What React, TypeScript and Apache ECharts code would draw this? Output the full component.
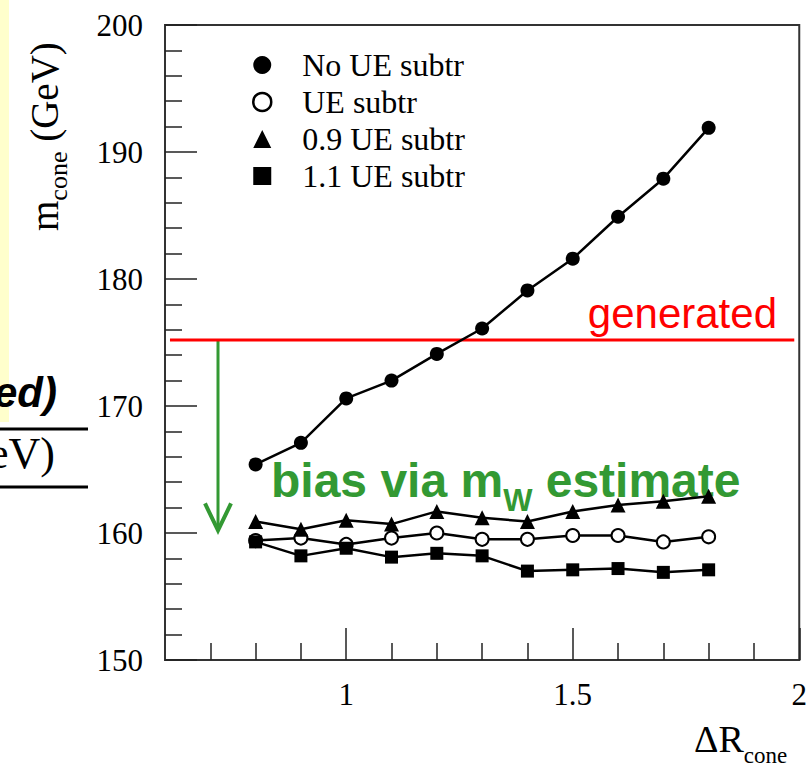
import React, { useEffect, useRef } from "react";
import * as echarts from "echarts";

// ---- data ----
const coneR = [0.8, 0.9, 1.0, 1.1, 1.2, 1.3, 1.4, 1.5, 1.6, 1.7, 1.8];
const noUESubtr = [165.4, 167.1, 170.6, 172.0, 174.1, 176.1, 179.1, 181.6, 184.9, 187.9, 191.9];
const ueSubtr = [159.4, 159.6, 159.1, 159.6, 160.0, 159.5, 159.5, 159.8, 159.8, 159.3, 159.7];
const ue09Subtr = [160.9, 160.3, 161.0, 160.7, 161.7, 161.2, 160.9, 161.7, 162.2, 162.5, 162.9];
const ue11Subtr = [159.3, 158.2, 158.8, 158.1, 158.4, 158.2, 157.0, 157.1, 157.2, 156.9, 157.1];
const seriesNames = ["No UE subtr", "UE subtr", "0.9 UE subtr", "1.1 UE subtr"];
const generatedMass = 175.2;
const generatedSpan = [0.611, 1.989];
const biasArrow = [0.717, 175.2, 160.2]; // x, from, to
const xMajorTicks = [1, 1.5, 2];
const xMinorTicks = [0.7, 0.8, 0.9, 1.1, 1.2, 1.3, 1.4, 1.6, 1.7, 1.8, 1.9];
const xRange = [0.6, 2.0];
const yRange = [150, 200];
const yInterval = 10;

const SERIF = "'Liberation Serif', 'Times New Roman', serif";
const SANS = "'Liberation Sans', Arial, sans-serif";
const GREEN = "#339933";

function textWidth(text: string, size: number, family: string, weight = "normal", style = "normal") {
  const c = document.createElement("canvas").getContext("2d")!;
  c.font = `${style} ${weight} ${size}px ${family}`;
  return c.measureText(text).width;
}

// text placed by its alphabetic baseline
function txt(text: string, x: number, baseline: number, size: number, family: string, fill: string, extra: any = {}) {
  const ratio = family === SANS ? 0.347 : 0.338;
  return {
    type: "text",
    x,
    y: baseline - ratio * size,
    silent: true,
    style: {
      text,
      fontSize: size,
      fontFamily: family,
      fill,
      align: extra.align || "left",
      textAlign: extra.align || "left",
      verticalAlign: "middle",
      textVerticalAlign: "middle",
      fontWeight: extra.weight || "normal",
      fontStyle: extra.style || "normal",
    },
  };
}

export default function App() {
  const ref = useRef<HTMLDivElement>(null);
  useEffect(() => {
    const chart = echarts.init(ref.current!, null, { renderer: "svg" });

    const mk = (name: string, vals: number[], symbol: string, size: number, itemStyle: any) => ({
      type: "line",
      name,
      data: coneR.map((x, i) => [x, vals[i]]),
      symbol,
      symbolSize: size,
      lineStyle: { color: "#000", width: 2.5 },
      itemStyle,
      z: 4,
      animation: false,
    });

    // y title pieces
    const fm = 39, fs = 26;
    const wm = textWidth("m", fm, SERIF);
    const wc = textWidth("cone", fs, SERIF);
    const wsp = textWidth(" ", fm, SERIF);

    // x title pieces
    const fx = 38, fxs = 23;
    const wdr = textWidth("ΔR", fx, SERIF);

    // bias text pieces
    const fb = 48, fbs = 31;
    const w1 = textWidth("bias via m", fb, SANS, "bold");
    const w2 = textWidth("W", fbs, SANS, "bold");
    const bx = 271;

    const option: any = {
      animation: false,
      backgroundColor: "#fff",
      grid: {
        left: 165,
        top: 25,
        right: 10,
        bottom: 110,
        show: true,
        borderColor: "#333",
        borderWidth: 2,
        backgroundColor: "transparent",
      },
      xAxis: [
        {
          type: "value",
          min: xRange[0],
          max: xRange[1],
          position: "bottom",
          axisLine: { show: true, lineStyle: { color: "#333", width: 2 } },
          axisTick: {
            show: true,
            inside: true,
            length: 17,
            customValues: xMinorTicks,
            lineStyle: { color: "#222", width: 1.5 },
          },
          axisLabel: {
            show: true,
            customValues: xMajorTicks,
            margin: 19,
            fontFamily: SERIF,
            fontSize: 31,
            color: "#000",
          },
          splitLine: { show: false },
        },
        {
          type: "value",
          min: xRange[0],
          max: xRange[1],
          position: "bottom",
          offset: 0,
          axisLine: { show: false },
          axisTick: {
            show: true,
            inside: true,
            length: 32,
            customValues: xMajorTicks,
            lineStyle: { color: "#222", width: 1.5 },
          },
          axisLabel: { show: false },
          splitLine: { show: false },
        },
      ],
      yAxis: {
        type: "value",
        min: yRange[0],
        max: yRange[1],
        interval: yInterval,
        axisLine: { show: true, lineStyle: { color: "#333", width: 2 } },
        axisTick: { show: true, inside: true, length: 32, lineStyle: { color: "#222", width: 1.5 } },
        minorTick: { show: true, splitNumber: 5, length: 17, lineStyle: { color: "#222", width: 1.5 } },
        axisLabel: { margin: 22, fontFamily: SERIF, fontSize: 31, color: "#000" },
        splitLine: { show: false },
        minorSplitLine: { show: false },
      },
      legend: {
        orient: "vertical",
        left: 247,
        top: 44,
        itemWidth: 18,
        itemHeight: 18,
        itemGap: 5,
        symbolKeepAspect: true,
        selectedMode: false,
        textStyle: {
          fontFamily: SERIF,
          fontSize: 32,
          color: "#000",
          lineHeight: 31,
          padding: [0, 0, 0, 26],
        },
        data: [
          { name: seriesNames[0], icon: "circle", itemStyle: { color: "#000", borderWidth: 0 } },
          { name: seriesNames[1], icon: "circle", itemStyle: { color: "#fff", borderColor: "#000", borderWidth: 2.5 } },
          { name: seriesNames[2], icon: "triangle", itemStyle: { color: "#000", borderWidth: 0 } },
          { name: seriesNames[3], icon: "rect", itemStyle: { color: "#000", borderWidth: 0 } },
        ],
      },
      series: [
        {
          type: "line",
          data: [
            [generatedSpan[0], generatedMass],
            [generatedSpan[1], generatedMass],
          ],
          symbol: "none",
          lineStyle: { color: "#ff0000", width: 3 },
          silent: true,
          z: 2,
        },
        {
          type: "custom",
          data: [biasArrow],
          silent: true,
          z: 2,
          renderItem: (params: any, api: any) => {
            const top = api.coord([api.value(0), api.value(1)]);
            const bot = api.coord([api.value(0), api.value(2)]);
            return {
              type: "group",
              children: [
                {
                  type: "line",
                  shape: { x1: top[0], y1: top[1], x2: bot[0], y2: bot[1] },
                  style: { stroke: GREEN, lineWidth: 3 },
                },
                {
                  type: "polyline",
                  shape: {
                    points: [
                      [bot[0] - 13, bot[1] - 27],
                      [bot[0], bot[1]],
                      [bot[0] + 13, bot[1] - 27],
                    ],
                  },
                  style: { stroke: GREEN, lineWidth: 4, fill: "none" },
                },
              ],
            };
          },
        },
        mk(seriesNames[0], noUESubtr, "circle", 14, { color: "#000" }),
        mk(seriesNames[1], ueSubtr, "circle", 13, { color: "#fff", borderColor: "#000", borderWidth: 2 }),
        mk(seriesNames[2], ue09Subtr, "triangle", 15, { color: "#000" }),
        mk(seriesNames[3], ue11Subtr, "rect", 13, { color: "#000" }),
      ],
      graphic: [
        // slide fragments at the left edge
        { type: "rect", shape: { x: 0, y: 0, width: 9, height: 422 }, style: { fill: "#ffffcc" }, silent: true, z: -1 },
        txt("ed)", 57, 407, 42, SANS, "#000", { align: "right", weight: "bold", style: "italic" }),
        { type: "line", shape: { x1: 0, y1: 429, x2: 88, y2: 429 }, style: { stroke: "#000", lineWidth: 3 }, silent: true },
        txt("eV)", 55, 468, 44, SERIF, "#000", { align: "right" }),
        { type: "line", shape: { x1: 0, y1: 487, x2: 88, y2: 487 }, style: { stroke: "#000", lineWidth: 3 }, silent: true },
        // y axis title
        {
          type: "group",
          x: 58,
          y: 231,
          rotation: Math.PI / 2,
          children: [
            txt("m", 0, 0, fm, SERIF, "#000"),
            txt("cone", wm, 9, fs, SERIF, "#000"),
            txt("(GeV)", wm + wc + wsp, 0, fm, SERIF, "#000"),
          ],
        },
        // x axis title
        txt("ΔR", 694, 752, fx, SERIF, "#000"),
        txt("cone", 694 + wdr, 763, fxs, SERIF, "#000"),
        // annotations
        txt("generated", 777, 328, 42, SANS, "#ff0000", { align: "right" }),
        txt("bias via m", bx, 497, fb, SANS, GREEN, { weight: "bold" }),
        txt("W", bx + w1, 511, fbs, SANS, GREEN, { weight: "bold" }),
        txt(" estimate", bx + w1 + w2, 497, fb, SANS, GREEN, { weight: "bold" }),
      ],
    };

    chart.setOption(option);
    return () => chart.dispose();
  }, []);

  return (
    <div
      ref={ref}
      style={{ position: "fixed", left: 0, top: 0, width: 810, height: 770, background: "#fff" }}
    />
  );
}
